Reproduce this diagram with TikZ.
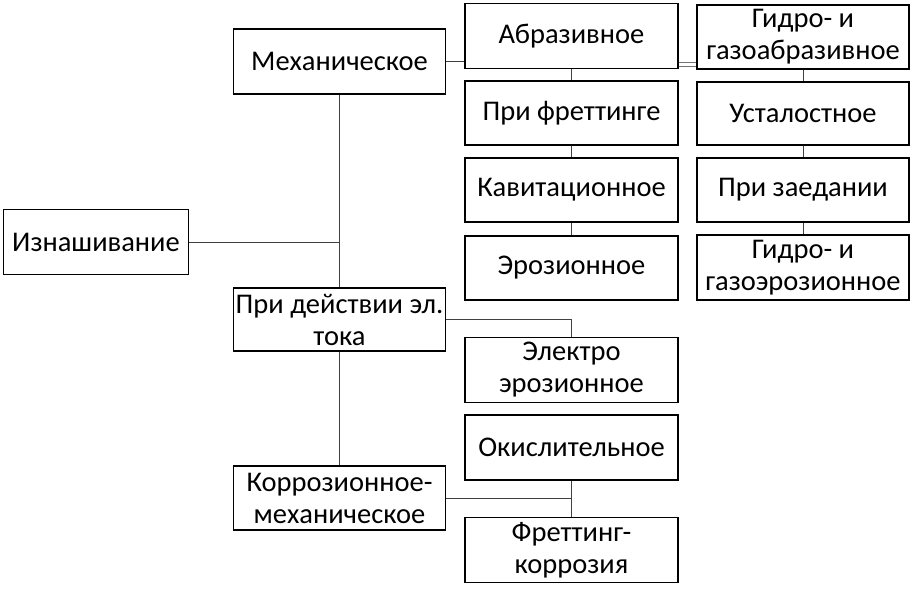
\documentclass[tikz,border=0pt]{standalone}
\usepackage{fontspec}
\setmainfont{Carlito}
\usetikzlibrary{calc}
\begin{document}
\begin{tikzpicture}[x=1pt,y=-1pt,
  bx/.style={draw=black,line width=1.1pt,inner sep=0pt,align=center,
    font=\fontsize{28.5}{32}\selectfont},
  c1/.style={bx,minimum width=212pt},
  c2/.style={bx,minimum width=213pt},
  c3/.style={bx,minimum width=212pt},
  ln/.style={draw=black!75,line width=1pt}]
\useasboundingbox (0,0) rectangle (911,592);
\node[bx,minimum width=185pt,minimum height=64.5pt] (izn) at (96,242) {Изнашивание};
\node[c1,minimum height=65pt] (mech) at (339.5,61.5) {Механическое};
\node[c1,minimum height=63pt] (tok) at (339.5,319.5) {При действии эл.\\тока};
\node[c1,minimum height=64pt] (korr) at (339.5,498) {Коррозионное-\\механическое};
\node[c2,minimum height=64.5pt] (abr) at (571.5,36) {Абразивное};
\node[c2,minimum height=64pt] (fret) at (571.5,113) {При фреттинге};
\node[c2,minimum height=64pt] (kav) at (571.5,190) {Кавитационное};
\node[c2,minimum height=64pt] (eroz) at (571.5,268) {Эрозионное};
\node[c2,minimum height=64.5pt] (elec) at (571.5,370) {Электро\\эрозионное};
\node[c2,minimum height=65pt] (okis) at (571.5,447.5) {Окислительное};
\node[c2,minimum height=64.5pt] (frkor) at (571.5,550) {Фреттинг-\\коррозия};
\node[c3,minimum height=64pt] (g1) at (803,37) {Гидро- и\\газоабразивное};
\node[c3,minimum height=63pt] (ust) at (803,113.5) {Усталостное};
\node[c3,minimum height=64pt] (zaed) at (803,190) {При заедании};
\node[c3,minimum height=65pt] (g2) at (803,267.5) {Гидро- и\\газоэрозионное};
\coordinate (j1) at (mech.south |- izn.east);
\draw[ln] (mech.south) -- (tok.north);
\draw[ln] (tok.south) -- (korr.north);
\draw[ln] (izn.east) -- (j1);
\draw[ln] (mech.east) -- (mech.east -| abr.west);
\draw[draw=black!55,line width=0.9pt] ($(abr.east)+(0,26)$) -- ($(g1.west)+(0,25)$);
\draw[draw=black!55,line width=0.9pt] ($(abr.east)+(0,30.5)$) -- ($(g1.west)+(0,29.5)$);
\draw[ln] (abr.south) -- (fret.north);
\draw[ln] (fret.south) -- (kav.north);
\draw[ln] (kav.south) -- (eroz.north);
\draw[ln] (g1.south) -- (ust.north);
\draw[ln] (ust.south) -- (zaed.north);
\draw[ln] (zaed.south) -- (g2.north);
\draw[ln] (tok.east) -| (elec.north);
\draw[ln] (korr.east) -- (korr.east -| okis.south);
\draw[ln] (okis.south) -- (frkor.north);
\end{tikzpicture}
\end{document}
